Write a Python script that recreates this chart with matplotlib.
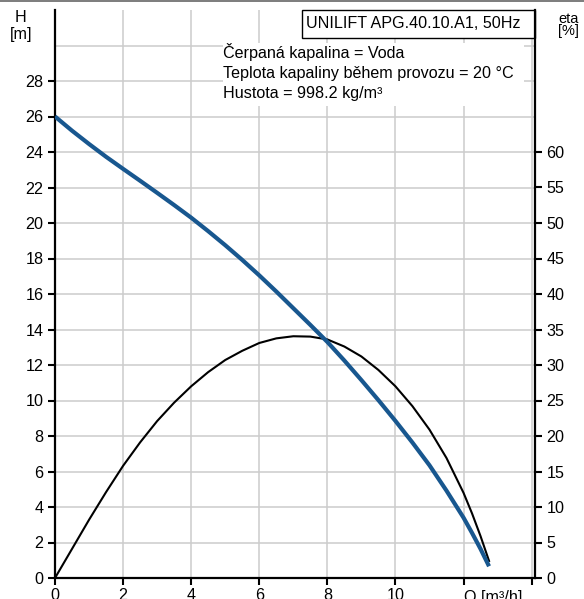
import matplotlib.pyplot as plt
from matplotlib.patches import Rectangle
from matplotlib.lines import Line2D

plt.rcParams['font.family'] = ['Liberation Sans', 'DejaVu Sans']

# H-Q curve (blue)
q_h = [0, 0.5, 1, 1.5, 2, 2.5, 3, 3.5, 4, 4.5, 5, 5.5, 6, 6.5, 7, 7.5, 8, 8.5,
       9, 9.5, 10, 10.5, 11, 11.5, 12, 12.25, 12.5, 12.75]
h = [26.0, 25.2, 24.45, 23.73, 23.05, 22.38, 21.7, 21.01, 20.3, 19.54, 18.75,
     17.92, 17.05, 16.14, 15.2, 14.26, 13.3, 12.25, 11.15, 10.02, 8.85, 7.63,
     6.35, 4.92, 3.4, 2.54, 1.64, 0.66]

# eta-Q curve (black)
q_eta = [0, 0.5, 1, 1.5, 2, 2.5, 3, 3.5, 4, 4.5, 5, 5.5, 6, 6.5, 7, 7.5, 8,
         8.5, 9, 9.5, 10, 10.5, 11, 11.5, 12, 12.25, 12.5, 12.75]
eta = [0, 4.1, 8.2, 12.1, 15.8, 19.1, 22.1, 24.7, 27.0, 29.0, 30.7, 32.0, 33.1,
       33.75, 34.05, 34.0, 33.6, 32.6, 31.2, 29.3, 27.0, 24.2, 20.9, 16.9, 12.0,
       9.1, 5.9, 2.4]

x_ticks = [0, 2, 4, 6, 8, 10, 12, 14]
x_labels = ['0', '2', '4', '6', '8', '10', '', '']
h_ticks = list(range(0, 30, 2))
eta_ticks = list(range(0, 65, 5))

W, H_ = 584, 599
fig = plt.figure(figsize=(W / 100, H_ / 100), dpi=100)
ax = fig.add_axes([55 / W, 1 - 578 / H_, 480 / W, 568 / H_])
ax2 = ax.twinx()

fs = 11.6
grid_c = '#cccccc'

ax.set_xlim(0, 14.1)
ax.set_ylim(0, 32)
ax2.set_ylim(0, 80)

ax.set_xticks(x_ticks)
ax.set_xticklabels(x_labels)
ax.set_yticks(h_ticks)
ax2.set_yticks(eta_ticks)

ax.set_axisbelow(True)
ax.grid(True, color=grid_c, lw=1.1)
ax.axhline(30, color=grid_c, lw=1.1, zorder=0.5)

for a in (ax, ax2):
    a.spines['top'].set_visible(False)
ax.spines['right'].set_visible(False)
ax2.spines['left'].set_visible(False)
ax2.spines['bottom'].set_visible(False)
for s in (ax.spines['left'], ax.spines['bottom'], ax2.spines['right']):
    s.set_linewidth(1.6)
    s.set_color('black')

ax.tick_params(axis='both', direction='out', length=5, width=1.5, labelsize=fs, colors='black')
ax.tick_params(axis='y', pad=3.2)
ax.tick_params(axis='x', pad=2)
ax2.tick_params(axis='y', direction='out', length=5, width=1.5, labelsize=fs, pad=3.2)

# curves: both drawn in the top axes so the blue one stays above the black one
ax2.plot(q_eta, eta, color='black', lw=1.5, zorder=3)
ax2.plot(q_h, h, color='#18578f', lw=3.0, zorder=4, transform=ax.transData,
         solid_capstyle='butt')

# info block with white background
ax.add_patch(Rectangle((0.35, 0.831), 0.628, 0.111, transform=ax.transAxes,
                       facecolor='white', edgecolor='none', zorder=1.5))
info = ['Čerpaná kapalina = Voda',
        'Teplota kapaliny během provozu = 20 °C',
        'Hustota = 998.2 kg/m³']
for i, line in enumerate(info):
    ax.text(0.351, 0.915 - i * 0.0348, line, transform=ax.transAxes,
            fontsize=fs, va='baseline', ha='left', zorder=5)

# title box
ax.add_patch(Rectangle((0.5146, 0.9507), 0.4854, 0.0493, transform=ax.transAxes,
                       facecolor='white', edgecolor='black', lw=1.0, zorder=5,
                       clip_on=False))
ax.text(0.523, 0.9755, 'UNILIFT APG.40.10.A1, 50Hz', transform=ax.transAxes,
        fontsize=fs, va='center', ha='left', zorder=6)

# axis labels
ax.annotate('Q [m³/h]', xy=(12, 0), xycoords='data', xytext=(0.5, -8.5),
            textcoords='offset points', fontsize=fs, ha='left', va='top',
            annotation_clip=False)
fig.text(21 / W, 1 - 22 / H_, 'H', fontsize=fs, ha='center', va='baseline')
fig.text(21 / W, 1 - 39 / H_, '[m]', fontsize=fs, ha='center', va='baseline')
fig.text(558 / W, 1 - 23 / H_, 'eta', fontsize=10.5, ha='left', va='baseline')
fig.text(558 / W, 1 - 35 / H_, '[%]', fontsize=10.5, ha='left', va='baseline')

fig.add_artist(Line2D([0, 1], [1 - 0.6 / H_, 1 - 0.6 / H_], transform=fig.transFigure,
                      color='#666666', lw=1.2))

fig.savefig('out.png', dpi=100)
